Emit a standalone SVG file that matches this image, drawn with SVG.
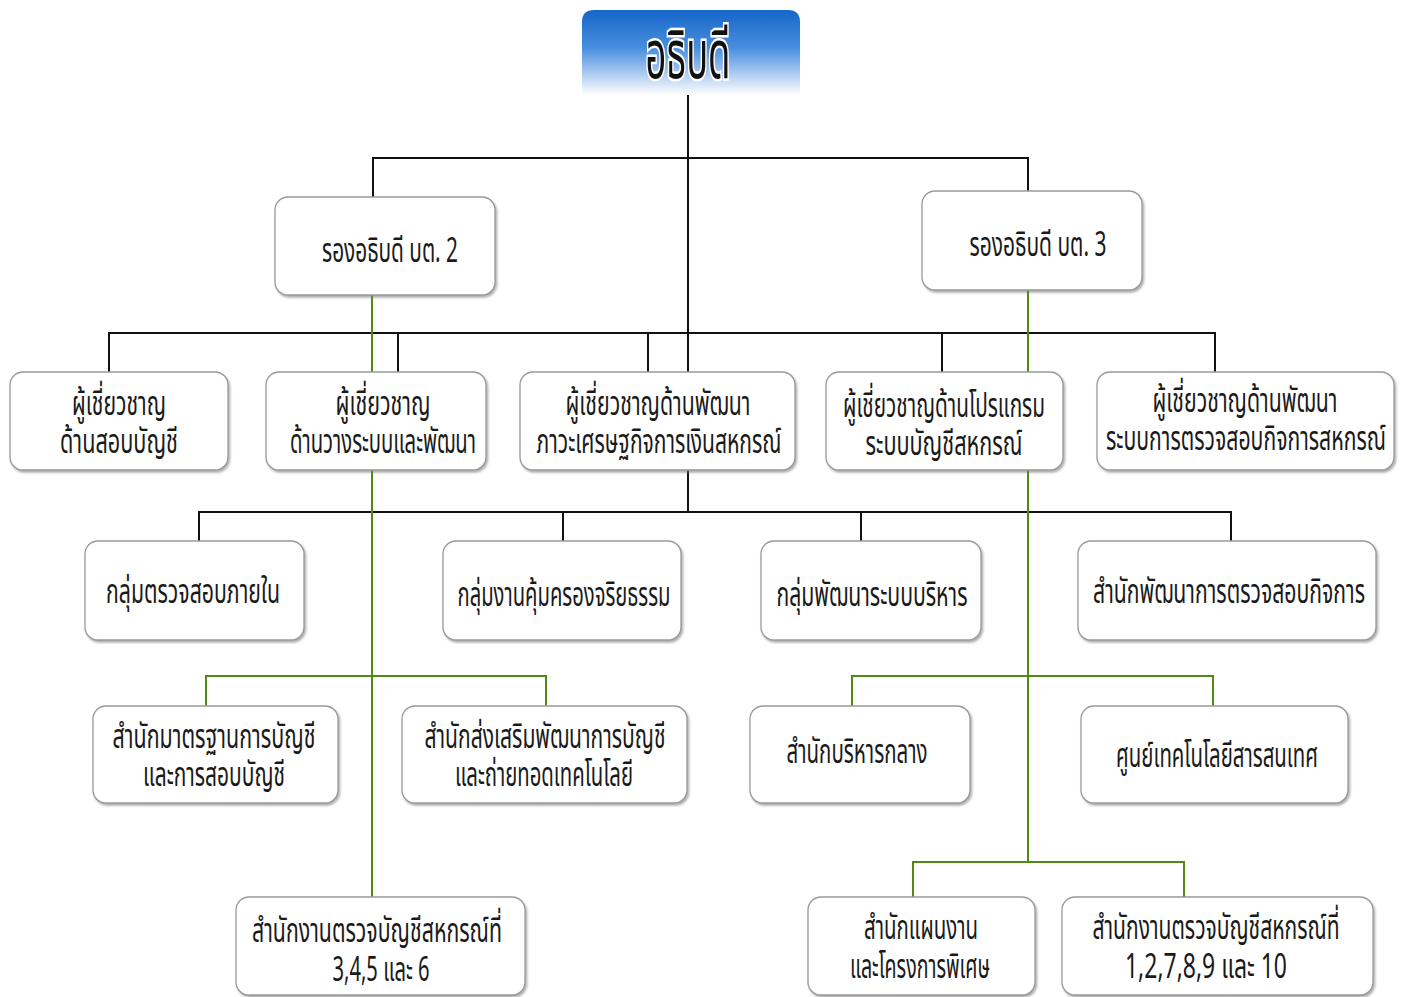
<svg xmlns="http://www.w3.org/2000/svg" width="1404" height="997" viewBox="0 0 1404 997">
<defs>
<linearGradient id="topg" x1="0" y1="0" x2="0" y2="1">
<stop offset="0" stop-color="#1565c8"/>
<stop offset="0.45" stop-color="#4a8fde"/>
<stop offset="1" stop-color="#ffffff"/>
</linearGradient>
<filter id="sh" x="-5%" y="-5%" width="110%" height="115%">
<feDropShadow dx="1.5" dy="2" stdDeviation="1.2" flood-color="#777" flood-opacity="0.6"/>
</filter>
<style>
.box{fill:#fff;stroke:#9a9a9a;stroke-width:1.3;filter:url(#sh)}
.t{font-family:"Noto Sans Thai","Noto Sans Thai UI","Loma","Garuda","Tlwg Typo","Noto Sans","DejaVu Sans",sans-serif;font-size:34px;fill:#1a1a1a;text-anchor:middle}
.blk{stroke:#111;stroke-width:2;fill:none}
.grn{stroke:#4f8a12;stroke-width:2;fill:none}
.title{font-family:"Noto Sans Thai","Loma","Garuda","Noto Sans",sans-serif;font-size:68px;fill:#111;stroke:#fff;stroke-width:5;paint-order:stroke;text-anchor:middle}
</style>
</defs>
<rect width="1404" height="997" fill="#fff"/>
<g id="connectors">
<path class="blk" d="M688 95 V512"/>
<path class="blk" d="M373 197 V158 H1028 V191"/>
<path class="blk" d="M109 372 V333 H1215 V372"/>
<path class="blk" d="M398 333 V372 M648 333 V372 M942 333 V372"/>
<path class="blk" d="M199 541 V512 H1231 V541"/>
<path class="blk" d="M563 512 V541 M861 512 V541"/>
<path class="grn" d="M372 295 V897"/>
<path class="grn" d="M1028 290 V862"/>
<path class="grn" d="M206 706 V676 H546 V706"/>
<path class="grn" d="M852 706 V676 H1213 V706"/>
<path class="grn" d="M913 897 V862 H1184 V897"/>
</g>
<g id="n0">
<path d="M582 95 V22 Q582 10 594 10 H788 Q800 10 800 22 V95 Z" fill="url(#topg)"/>
<text class="title" x="688" y="78" textLength="85" lengthAdjust="spacingAndGlyphs">อธิบดี</text>
</g>
<g id="n1"><rect class="box" x="275" y="197" width="220" height="98" rx="13"/><text class="t" x="390" y="262" textLength="136" lengthAdjust="spacingAndGlyphs">รองอธิบดี บต. 2</text></g>
<g id="n2"><rect class="box" x="922" y="191" width="220" height="99" rx="13"/><text class="t" x="1038" y="256" textLength="137" lengthAdjust="spacingAndGlyphs">รองอธิบดี บต. 3</text></g>
<g id="n3"><rect class="box" x="10" y="372" width="218" height="98" rx="13"/><text class="t" x="119" y="415" textLength="94" lengthAdjust="spacingAndGlyphs">ผู้เชี่ยวชาญ</text><text class="t" x="119" y="453" textLength="118" lengthAdjust="spacingAndGlyphs">ด้านสอบบัญชี</text></g>
<g id="n4"><rect class="box" x="266" y="372" width="220" height="98" rx="13"/><text class="t" x="383" y="415" textLength="95" lengthAdjust="spacingAndGlyphs">ผู้เชี่ยวชาญ</text><text class="t" x="383" y="453" textLength="186" lengthAdjust="spacingAndGlyphs">ด้านวางระบบและพัฒนา</text></g>
<g id="n5"><rect class="box" x="520" y="372" width="275" height="98" rx="13"/><text class="t" x="658" y="415" textLength="185" lengthAdjust="spacingAndGlyphs">ผู้เชี่ยวชาญด้านพัฒนา</text><text class="t" x="659" y="453" textLength="245" lengthAdjust="spacingAndGlyphs">ภาวะเศรษฐกิจการเงินสหกรณ์</text></g>
<g id="n6"><rect class="box" x="826" y="372" width="237" height="98" rx="13"/><text class="t" x="944" y="417" textLength="202" lengthAdjust="spacingAndGlyphs">ผู้เชี่ยวชาญด้านโปรแกรม</text><text class="t" x="944" y="455" textLength="157" lengthAdjust="spacingAndGlyphs">ระบบบัญชีสหกรณ์</text></g>
<g id="n7"><rect class="box" x="1097" y="372" width="297" height="98" rx="13"/><text class="t" x="1245" y="412" textLength="185" lengthAdjust="spacingAndGlyphs">ผู้เชี่ยวชาญด้านพัฒนา</text><text class="t" x="1246" y="450" textLength="280" lengthAdjust="spacingAndGlyphs">ระบบการตรวจสอบกิจการสหกรณ์</text></g>
<g id="n8"><rect class="box" x="85" y="541" width="219" height="99" rx="13"/><text class="t" x="193" y="603" textLength="174" lengthAdjust="spacingAndGlyphs">กลุ่มตรวจสอบภายใน</text></g>
<g id="n9"><rect class="box" x="443" y="541" width="238" height="99" rx="13"/><text class="t" x="564" y="606" textLength="213" lengthAdjust="spacingAndGlyphs">กลุ่มงานคุ้มครองจริยธรรม</text></g>
<g id="n10"><rect class="box" x="761" y="541" width="220" height="99" rx="13"/><text class="t" x="872" y="606" textLength="191" lengthAdjust="spacingAndGlyphs">กลุ่มพัฒนาระบบบริหาร</text></g>
<g id="n11"><rect class="box" x="1078" y="541" width="298" height="99" rx="13"/><text class="t" x="1229" y="603" textLength="272" lengthAdjust="spacingAndGlyphs">สำนักพัฒนาการตรวจสอบกิจการ</text></g>
<g id="n12"><rect class="box" x="93" y="706" width="245" height="97" rx="13"/><text class="t" x="214" y="748" textLength="203" lengthAdjust="spacingAndGlyphs">สำนักมาตรฐานการบัญชี</text><text class="t" x="214" y="786" textLength="142" lengthAdjust="spacingAndGlyphs">และการสอบบัญชี</text></g>
<g id="n13"><rect class="box" x="402" y="706" width="285" height="97" rx="13"/><text class="t" x="545" y="748" textLength="241" lengthAdjust="spacingAndGlyphs">สำนักส่งเสริมพัฒนาการบัญชี</text><text class="t" x="544" y="786" textLength="178" lengthAdjust="spacingAndGlyphs">และถ่ายทอดเทคโนโลยี</text></g>
<g id="n14"><rect class="box" x="750" y="706" width="220" height="97" rx="13"/><text class="t" x="857" y="763" textLength="141" lengthAdjust="spacingAndGlyphs">สำนักบริหารกลาง</text></g>
<g id="n15"><rect class="box" x="1081" y="706" width="267" height="97" rx="13"/><text class="t" x="1217" y="767" textLength="202" lengthAdjust="spacingAndGlyphs">ศูนย์เทคโนโลยีสารสนเทศ</text></g>
<g id="n16"><rect class="box" x="236" y="897" width="289" height="98" rx="13"/><text class="t" x="377" y="942" textLength="250" lengthAdjust="spacingAndGlyphs">สำนักงานตรวจบัญชีสหกรณ์ที่</text><text class="t" x="381" y="981" textLength="97" lengthAdjust="spacingAndGlyphs">3,4,5 และ 6</text></g>
<g id="n17"><rect class="box" x="808" y="897" width="227" height="98" rx="13"/><text class="t" x="921" y="939" textLength="114" lengthAdjust="spacingAndGlyphs">สำนักแผนงาน</text><text class="t" x="920" y="978" textLength="140" lengthAdjust="spacingAndGlyphs">และโครงการพิเศษ</text></g>
<g id="n18"><rect class="box" x="1062" y="897" width="311" height="98" rx="13"/><text class="t" x="1216" y="939" textLength="247" lengthAdjust="spacingAndGlyphs">สำนักงานตรวจบัญชีสหกรณ์ที่</text><text class="t" x="1206" y="978" textLength="162" lengthAdjust="spacingAndGlyphs">1,2,7,8,9 และ 10</text></g>
</svg>
